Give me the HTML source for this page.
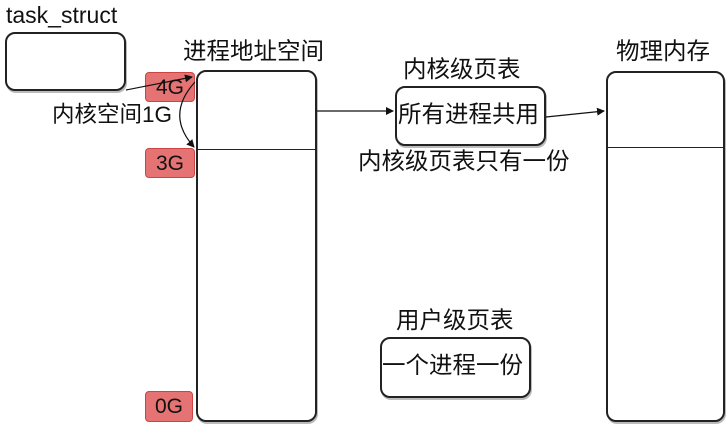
<!DOCTYPE html>
<html><head><meta charset="utf-8"><style>
body{margin:0;width:728px;height:424px;background:#fff;position:relative;overflow:hidden;font-family:"Liberation Sans","Noto Sans CJK SC",sans-serif;color:#111}
.b{position:absolute;border:2px solid #222;border-radius:10px;background:#fff;box-shadow:1px 2px 0 #bbb;box-sizing:border-box}
.t{position:absolute;font-size:23.5px;white-space:nowrap;line-height:1}
.r{position:absolute;background:#e57373;border:1px solid #c44;border-radius:4px;font-size:21px;text-align:center;box-sizing:border-box;line-height:29px}
</style></head><body>
<div class="t" style="left:6px;top:4px;font-size:23px">task_struct</div>
<div class="b" style="left:5px;top:32px;width:121px;height:59px"></div>
<div class="t" style="left:183px;top:40px">进程地址空间</div>
<div class="b" style="left:196px;top:70px;width:121px;height:352px"></div>
<div style="position:absolute;left:197px;top:149px;width:119px;height:1px;background:#222"></div>
<div class="r" style="left:145px;top:72px;width:50px;height:30px">4G</div>
<div class="r" style="left:145px;top:148px;width:50px;height:30px">3G</div>
<div class="r" style="left:145px;top:391px;width:48px;height:31px">0G</div>
<div class="t" style="left:52px;top:104px;font-size:22.5px">内核空间1G</div>
<div class="t" style="left:403px;top:58px">内核级页表</div>
<div class="b" style="left:395px;top:86px;width:151px;height:60px"></div>
<div class="t" style="left:398px;top:103px">所有进程共用</div>
<div class="t" style="left:358px;top:150px">内核级页表只有一份</div>
<div class="t" style="left:616px;top:40px">物理内存</div>
<div class="b" style="left:606px;top:71px;width:119px;height:351px"></div>
<div style="position:absolute;left:607px;top:147px;width:117px;height:1px;background:#222"></div>
<div class="t" style="left:396px;top:309px">用户级页表</div>
<div class="b" style="left:380px;top:337px;width:151px;height:61px"></div>
<div class="t" style="left:382px;top:354px">一个进程一份</div>
<svg width="728" height="424" style="position:absolute;left:0;top:0">
<defs><marker id="a" markerWidth="8" markerHeight="8" refX="7" refY="4" orient="auto" markerUnits="userSpaceOnUse"><path d="M0,0L8,4L0,8z" fill="#111"/></marker></defs>
<g stroke="#111" stroke-width="1.2" fill="none">
<path d="M126,90L192,77" marker-end="url(#a)"/>
<path d="M195,82Q165,115 194,147" marker-end="url(#a)"/>
<path d="M317,111L393,111" marker-end="url(#a)"/>
<path d="M546,117L604,111" marker-end="url(#a)"/>
</g></svg>
</body></html>
